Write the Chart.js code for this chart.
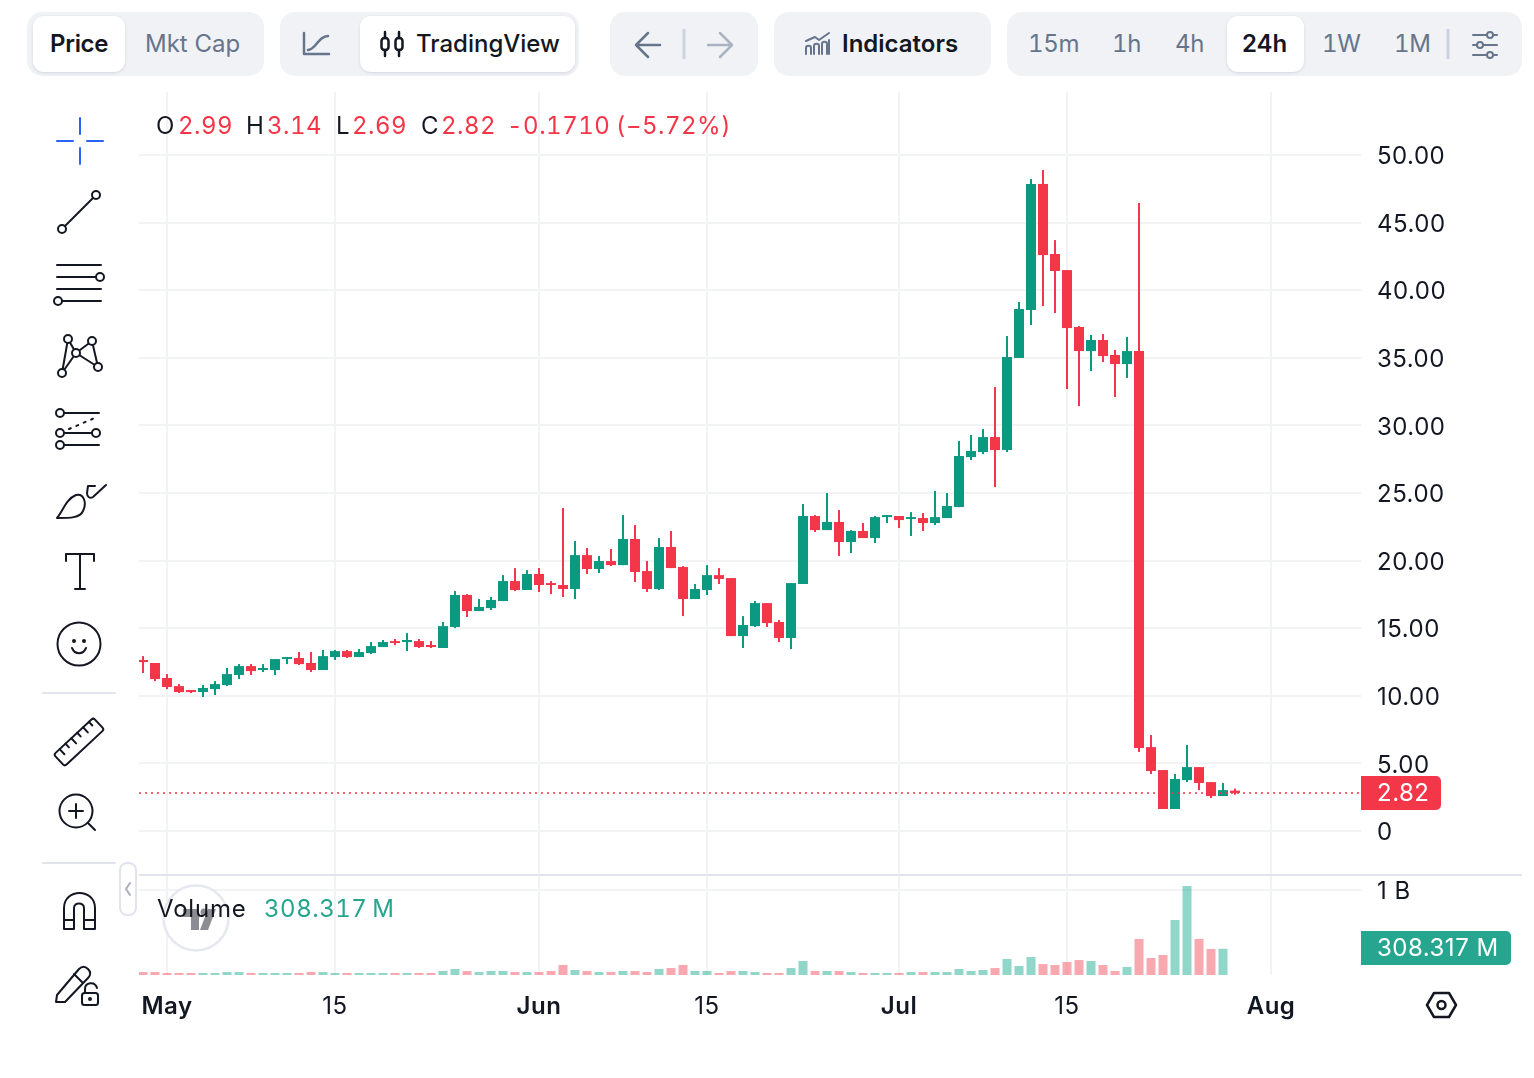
<!DOCTYPE html>
<html>
<head>
<meta charset="utf-8">
<title>Price chart</title>
<script src="https://cdn.jsdelivr.net/npm/chart.js@4"></script>
<style>
  html, body { margin: 0; padding: 0; background: #fff; }
  #page { position: relative; width: 1534px; height: 1078px; overflow: hidden; font-family: Inter, sans-serif; color: #131722; }
  canvas { position: absolute; }
  .t { position: absolute; white-space: nowrap; font-size: 24px; line-height: 32px; }
  .box { position: absolute; top: 12px; height: 64px; background: #f0f2f6; border-radius: 15px; }
  .pill { position: absolute; top: 16px; height: 56px; background: #fff; border-radius: 11px; box-shadow: 0 1px 3px rgba(40, 50, 80, .14); }
  .muted { color: #66758c; }
  .strong { font-weight: 600; }
  .red { color: #f43649; }
  .up { color: #26a68f; }
  .num { font-variant-numeric: tabular-nums; letter-spacing: .5px; }
  .tool { font-variant-numeric: tabular-nums; letter-spacing: -.3px; }
  .overlay { position: absolute; left: 0; top: 0; }
</style>
</head>
<body>
<div id="page">
  <canvas id="priceChart" width="1383" height="783" style="left:139px;top:92px"></canvas>
  <canvas id="volumeChart" width="1383" height="165" style="left:139px;top:875px"></canvas>
  <div style="position:absolute;left:139px;top:874px;width:1383px;height:2px;background:#e0e3eb"></div>

  <!-- top toolbar -->
  <div class="box" style="left:27px;width:237px"></div>
  <div class="pill" style="left:33px;width:92px"></div>
  <div class="t strong" style="left:50px;top:28px;letter-spacing:-.3px">Price</div>
  <div class="t muted" style="left:145px;top:28px">Mkt Cap</div>

  <div class="box" style="left:280px;width:299px"></div>
  <div class="pill" style="left:360px;width:215px"></div>
  <div class="t" style="left:416px;top:28px;font-weight:500">TradingView</div>

  <div class="box" style="left:610px;width:148px"></div>
  <div class="box" style="left:774px;width:217px"></div>
  <div class="t strong" style="left:842px;top:28px">Indicators</div>

  <div class="box" style="left:1007px;width:515px"></div>
  <div class="pill" style="left:1227px;width:77px"></div>
  <div class="t muted tool" style="left:1028px;top:28px">15m</div>
  <div class="t muted tool" style="left:1112px;top:28px">1h</div>
  <div class="t muted tool" style="left:1175px;top:28px">4h</div>
  <div class="t strong" style="left:1242px;top:28px">24h</div>
  <div class="t muted tool" style="left:1322px;top:28px">1W</div>
  <div class="t muted tool" style="left:1394px;top:28px">1M</div>

  <!-- icons and watermark -->
  <svg class="overlay" width="1534" height="1078" fill="none" stroke="#131722" stroke-width="2" stroke-linecap="round" stroke-linejoin="round">
    <!-- toolbar icons -->
    <g stroke="#66758c" stroke-width="2.500">
      <path d="M304 33v21h25M308 50c8 0 10-14 20-14"/>
      <path d="M636 45h24M648 33l-12 12 12 12"/>
    </g>
    <g stroke="#131722" stroke-width="2.500">
      <path d="M385 32v6M385 50v6M399 32v6M399 50v6"/>
      <rect x="381.500" y="38" width="7" height="12" rx="3"/>
      <rect x="395.500" y="38" width="7" height="12" rx="3"/>
    </g>
    <path d="M684 29v30" stroke="#ccd3de" stroke-width="3" stroke-linecap="butt"/>
    <path d="M708 45h24M720 33l12 12-12 12" stroke="#aab3c2" stroke-width="2.500"/>
    <g stroke="#66758c">
      <path d="M806 41l9-4 4 3 10-7" />
      <path d="M806 54v-6c0-3 5-3 5 0v6M814 54v-8c0-3 5-3 5 0v8M822 54v-10c0-3 5-3 5 0v10M829 54V40"/>
    </g>
    <path d="M1448 29v30" stroke="#ccd3de" stroke-width="3" stroke-linecap="butt"/>
    <g stroke="#66758c">
      <path d="M1473 35h24M1473 45h24M1473 55h24"/>
      <circle cx="1490" cy="35" r="3" fill="#f0f2f6"/>
      <circle cx="1480" cy="45" r="3" fill="#f0f2f6"/>
      <circle cx="1490" cy="55" r="3" fill="#f0f2f6"/>
    </g>

    <!-- drawing tools -->
    <path d="M80 118v16M80 148v16M57 141h16M87 141h16" stroke="#2962ff"/>
    <circle cx="96" cy="195" r="4"/><circle cx="62" cy="229" r="4"/><path d="M93 198L65 226"/>
    <path d="M57 265h44M57 277h38M57 289h44M62 301h39"/><circle cx="100" cy="277" r="4"/><circle cx="58" cy="301" r="4"/>
    <path d="M62 373L68 339 76 353 92 341 98 367 76 353 62 373"/>
    <g fill="#fff"><circle cx="68" cy="339" r="4"/><circle cx="92" cy="341" r="4"/><circle cx="76" cy="353" r="4"/><circle cx="98" cy="367" r="4"/><circle cx="62" cy="373" r="4"/></g>
    <path d="M64 413h35M64 433h28M64 445h35"/><path d="M69 429L97 417" stroke-dasharray="2 6"/>
    <circle cx="60" cy="413" r="4"/><circle cx="60" cy="433" r="4"/><circle cx="96" cy="433" r="4"/><circle cx="60" cy="445" r="4"/>
    <path d="M57 518c6-7 9-19 19-23 8-2 11 8 7 16-3 7-13 7-26 7zM106 485L93 497c-3 2-6 0-6-4l1-7h7"/>
    <path d="M66 561v-7h28v7M80 554v35M75 589h10"/>
    <circle cx="79" cy="644" r="21.500"/>
    <g fill="#131722" stroke="none"><circle cx="74" cy="641" r="2"/><circle cx="84" cy="641" r="2"/></g>
    <path d="M72 648c3 7 11 7 14 0"/>
    <path d="M43 693h72M43 863h72" stroke="#e1e4ea"/>
    <g transform="rotate(-43 79 742)">
      <rect x="52" y="734" width="54" height="16" rx="2.500"/>
      <path d="M60 734v7M68 734v5M76 734v7M84 734v5M92 734v7M100 734v5"/>
    </g>
    <circle cx="76" cy="811" r="16.500"/><path d="M76 804v14M69 811h14M88 823l7 7"/>
    <path d="M64 929V908c0-20 31-20 31 0v21H84V908c0-6-10-6-10 0v21zM64 920h10M84 920h11"/>
    <path d="M57 995l-1 7 9 0 23-24c3-3 3-6 0-9-3-3-6-3-9 0zM74 974l9 9"/>
    <rect x="82" y="993" width="16" height="12" rx="2.500"/><path d="M85 993v-4c0-7 10-8 12-1"/><circle cx="90" cy="999" r="1" fill="#131722"/>

    <!-- pane collapse handle -->
    <rect x="120" y="863" width="16" height="52" rx="7" fill="#fff" stroke="#e1e4ec"/>
    <path d="M130 883l-4 6 4 6" stroke="#a9aebb"/>

    <!-- settings hexagon -->
    <path d="M1434 993h15l7 12-7 12h-15l-7-12z" stroke-width="2.500"/>
    <circle cx="1441.500" cy="1005" r="4" stroke-width="2.500"/>

    <!-- watermark -->
    <circle cx="196" cy="918" r="32.500" fill="#fff" stroke="#e6e8ef" stroke-width="2.500"/>
    <g fill="#8b8d93" stroke="none">
      <path d="M183 909h16v21h-8v-13h-8z"/>
      <circle cx="204" cy="912" r="3.500"/>
      <path d="M200 930l8-21h8l-8 21z"/>
    </g>
  </svg>

  <!-- last candle readout -->
  <div class="t num" style="left:156px;top:110px">O</div><div class="t red num" style="left:178px;top:110px">2.99</div>
  <div class="t num" style="left:246px;top:110px">H</div><div class="t red num" style="left:267px;top:110px">3.14</div>
  <div class="t num" style="left:336px;top:110px">L</div><div class="t red num" style="left:352px;top:110px">2.69</div>
  <div class="t num" style="left:421px;top:110px">C</div><div class="t red num" style="left:441px;top:110px">2.82</div>
  <div class="t red num" style="left:507px;top:110px">-0.1710</div><div class="t red num" style="left:616px;top:110px">(−5.72%)</div>

  <div class="t num" style="left:157px;top:893px;letter-spacing:.8px">Volume</div>
  <div class="t up num" style="left:264px;top:893px">308.317&#8201;M</div>
</div>

<script>
// Daily OHLC candles, first one is two days before May 1st
var opens = [12.65,12.43,11.32,10.72,10.43,10.28,10.50,10.80,11.54,12.20,11.91,11.91,12.72,12.80,12.43,11.91,12.87,13.31,12.87,13.17,13.61,14.05,13.98,14.05,13.76,13.54,15.09,17.46,16.27,16.49,17.01,18.49,17.83,19.01,18.34,18.20,17.90,20.41,19.38,19.97,19.67,21.60,19.23,17.90,21.01,19.53,17.16,17.83,18.93,18.71,14.42,15.16,16.86,15.46,14.28,18.27,23.30,22.26,22.86,21.38,22.19,21.67,23.22,23.30,23.08,23.15,22.78,23.15,23.96,27.66,28.03,29.14,28.18,34.99,38.54,47.86,42.68,41.49,37.28,35.50,36.32,35.21,34.54,35.50,6.21,4.51,1.63,3.77,4.73,3.62,2.59,2.99];
var highs = [12.94,12.43,11.61,10.87,10.43,10.80,11.09,12.06,12.35,12.35,12.35,12.72,12.87,13.24,13.24,13.39,13.39,13.39,13.46,13.98,14.13,14.20,14.64,14.20,14.05,15.46,17.75,17.53,17.16,17.31,18.93,19.45,19.30,19.45,18.49,23.89,21.45,20.93,20.34,20.86,23.37,22.63,19.97,21.67,22.19,19.60,18.27,19.67,19.45,18.71,15.90,17.01,16.86,15.61,18.34,24.19,23.37,25.00,23.74,22.26,22.78,23.30,23.37,23.30,23.59,23.52,25.15,25.00,28.85,29.29,29.73,32.84,36.61,39.13,48.22,48.89,43.71,41.49,37.35,36.69,36.76,35.58,36.54,46.45,7.10,4.51,4.22,6.36,4.73,3.62,3.55,3.14];
var lows = [11.69,11.09,10.50,10.21,10.21,9.91,10.06,10.72,11.24,11.54,11.76,11.54,12.35,12.28,11.76,11.91,12.65,12.80,12.87,13.09,13.61,13.76,13.31,13.54,13.54,13.54,15.01,15.83,16.27,16.35,17.01,17.75,17.83,17.68,17.53,17.31,17.16,19.01,19.08,19.60,19.67,18.42,17.68,17.83,19.45,15.90,17.16,17.46,18.27,14.42,13.54,15.09,15.09,13.98,13.46,18.27,22.12,22.26,20.34,20.56,21.67,21.30,22.78,22.41,21.82,22.19,22.63,23.15,23.96,27.44,27.88,25.44,28.03,34.99,37.43,38.83,38.31,32.69,31.43,34.02,34.69,32.10,33.51,5.84,4.22,1.63,1.63,3.62,3.03,2.44,2.59,2.69];
var closes = [12.50,11.24,10.65,10.28,10.28,10.58,10.87,11.61,12.20,11.83,12.06,12.72,12.87,12.35,11.91,12.94,13.31,12.87,13.24,13.68,13.98,13.91,14.13,13.61,13.61,15.16,17.46,16.27,16.57,17.09,18.49,17.83,19.01,18.20,18.20,17.90,20.41,19.38,19.97,19.67,21.60,19.16,17.90,21.01,19.45,17.16,17.90,18.93,18.64,14.42,15.24,16.86,15.38,14.28,18.34,23.30,22.26,22.86,21.38,22.19,21.67,23.22,23.37,23.00,23.22,22.78,23.22,24.04,27.74,28.11,29.14,28.18,35.06,38.61,47.86,42.60,41.42,37.20,35.50,36.32,35.13,34.54,35.50,6.14,4.44,1.63,3.85,4.73,3.55,2.59,3.03,2.82];

// Volume in millions, the running candle has no bar yet
var volumes = [35,35,24,24,24,24,24,35,35,24,24,24,24,24,35,35,24,24,24,24,24,24,24,24,24,47,71,47,35,47,47,35,35,35,47,118,59,47,35,35,47,47,35,71,82,118,47,47,24,47,47,35,24,24,82,165,47,47,47,35,24,24,24,24,35,35,35,35,71,47,59,82,188,106,212,129,118,153,176,165,118,47,94,424,200,235,647,1047,424,306,308.317];

var firstDay = -2;
var tickDays = [0, 14, 31, 45, 61, 75, 92];
var tickLabels = ['May', '15', 'Jun', '15', 'Jul', '15', 'Aug'];
var priceTicks = [0, 5, 10, 15, 20, 25, 30, 35, 40, 45, 50];
var volumeTicks = [1000];
var lastVolumeLabel = '308.317 M';

var UP = '#0b9981';
var DOWN = '#f43649';
var UP_SOFT = 'rgba(19, 170, 142, 0.47)';
var DOWN_SOFT = 'rgba(244, 54, 73, 0.43)';
var GRID = '#f2f3f5';
var TEXT = '#131722';
var FONT = 'Inter';

var dayMin = -2.333;
var dayMax = 99.5;
var axisWidth = 161;
var last = closes.length - 1;

function isUp(i) {
    return closes[i] >= opens[i];
}

function dayOf(i) {
    return firstDay + i;
}

// Tick labels may hang over the canvas edge, don't let them shrink the plot
function dropPadding(scale) {
    scale.paddingLeft = 0;
    scale.paddingRight = 0;
    scale.paddingTop = 0;
    scale.paddingBottom = 0;
}

// Shared time axis, only the 1st and 15th get a line and a label
function timeAxis(showLabels, height) {
    return {
        type: 'linear',
        min: dayMin,
        max: dayMax,
        offset: false,
        border: { display: false },
        grid: { color: GRID, lineWidth: 2, drawTicks: false, offset: false },
        afterBuildTicks: function(scale) {
            scale.ticks = tickDays.map(function(d) { return { value: d }; });
        },
        afterFit: function(scale) {
            scale.height = height;
            dropPadding(scale);
        },
        ticks: {
            display: showLabels,
            autoSkip: false,
            maxRotation: 0,
            padding: 17,
            color: TEXT,
            font: function(ctx) {
                var isMonth = tickLabels[ctx.index] !== '15';
                return { family: FONT, size: 24, weight: isMonth ? '600' : '400' };
            },
            callback: function(value) {
                return tickLabels[tickDays.indexOf(value)];
            }
        }
    };
}

function valueAxis(min, max, ticks, format) {
    return {
        position: 'right',
        min: min,
        max: max,
        border: { display: false },
        grid: { color: GRID, lineWidth: 2, drawTicks: false },
        afterBuildTicks: function(scale) {
            scale.ticks = ticks.map(function(v) { return { value: v }; });
        },
        afterFit: function(scale) {
            scale.width = axisWidth;
            dropPadding(scale);
        },
        ticks: {
            autoSkip: false,
            padding: 16,
            labelOffset: 2,
            color: TEXT,
            font: { family: FONT, size: 24 },
            callback: format
        }
    };
}

var labelSpacing = {
    id: 'labelSpacing',
    beforeDraw: function(chart) {
        chart.ctx.letterSpacing = '0.5px';
    }
};

// Coloured label sitting on the axis at the last value
function axisTag(id, yValue, text, color, width) {
    return {
        id: id,
        afterDraw: function(chart) {
            var c = chart.ctx;
            var left = chart.chartArea.right;
            var y = Math.floor(chart.scales.y.getPixelForValue(yValue) + 0.15);
            c.save();
            c.fillStyle = color;
            c.beginPath();
            c.roundRect(left, y - 17, width, 34, [0, 5, 5, 0]);
            c.fill();
            c.fillStyle = '#fff';
            c.font = '24px ' + FONT;
            c.textAlign = 'left';
            c.textBaseline = 'middle';
            c.fillText(text, left + 16, y + 1);
            c.restore();
        }
    };
}

var wicks = closes.map(function(c, i) { return { x: dayOf(i), y: [lows[i], highs[i]] }; });
var bodies = closes.map(function(c, i) { return { x: dayOf(i), y: [opens[i], closes[i]] }; });
var candleColors = closes.map(function(c, i) { return isUp(i) ? UP : DOWN; });

new Chart(document.getElementById('priceChart'), {
    type: 'bar',
    data: {
        datasets: [
            {
                type: 'line',
                data: [{ x: dayMin, y: closes[last] }, { x: dayMax, y: closes[last] }],
                borderColor: DOWN,
                borderWidth: 1.5,
                borderDash: [2, 4],
                pointRadius: 0,
                order: 1
            },
            { data: bodies, backgroundColor: candleColors, barThickness: 10, grouped: false, inflateAmount: 0, order: 2 },
            { data: wicks, backgroundColor: candleColors, barThickness: 2, grouped: false, inflateAmount: 0, order: 3 }
        ]
    },
    options: {
        responsive: false,
        animation: false,
        events: [],
        layout: { padding: 0 },
        plugins: { legend: { display: false }, tooltip: { enabled: false } },
        scales: {
            x: timeAxis(false, 0),
            y: valueAxis(-3.25, 54.66, priceTicks, function(value) {
                return value === 0 ? '0' : value.toFixed(2);
            })
        }
    },
    plugins: [labelSpacing, axisTag('priceTag', closes[last], closes[last].toFixed(2), DOWN, 80)]
});

var volumeColors = volumes.map(function(v, i) { return isUp(i) ? UP_SOFT : DOWN_SOFT; });

new Chart(document.getElementById('volumeChart'), {
    type: 'bar',
    data: {
        datasets: [{
            data: volumes.map(function(v, i) { return { x: dayOf(i), y: v }; }),
            backgroundColor: volumeColors,
            barThickness: 9,
            inflateAmount: 0
        }]
    },
    options: {
        responsive: false,
        animation: false,
        events: [],
        layout: { padding: 0 },
        plugins: { legend: { display: false }, tooltip: { enabled: false } },
        scales: {
            x: timeAxis(true, 65),
            y: valueAxis(0, 1176.5, volumeTicks, function() { return '1 B'; })
        }
    },
    plugins: [labelSpacing, axisTag('volumeTag', volumes[volumes.length - 1], lastVolumeLabel, '#26a68f', 150)]
});
</script>
</body>
</html>
